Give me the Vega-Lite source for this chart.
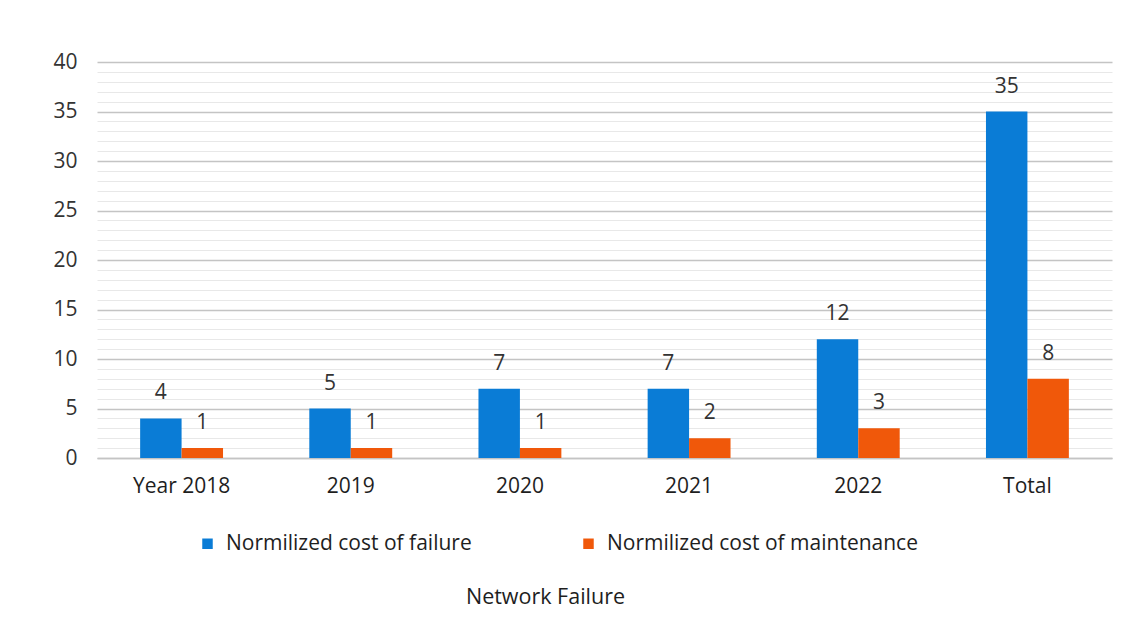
{
  "$schema": "https://vega.github.io/schema/vega-lite/v6.json",
  "width": 1015,
  "height": 396,
  "autosize": {"type": "none"},
  "padding": {"left": 97, "top": 62, "right": 33, "bottom": 166},
  "background": "white",
  "config": {
    "view": {"stroke": null},
    "font": "Open Sans",
    "axis": {"labelFont": "Open Sans", "titleFont": "Open Sans"}
  },
  "data": {
    "values": [
      {"category": "Year 2018", "series": "Normilized cost of failure", "value": 4},
      {"category": "Year 2018", "series": "Normilized cost of maintenance", "value": 1},
      {"category": "2019", "series": "Normilized cost of failure", "value": 5},
      {"category": "2019", "series": "Normilized cost of maintenance", "value": 1},
      {"category": "2020", "series": "Normilized cost of failure", "value": 7},
      {"category": "2020", "series": "Normilized cost of maintenance", "value": 1},
      {"category": "2021", "series": "Normilized cost of failure", "value": 7},
      {"category": "2021", "series": "Normilized cost of maintenance", "value": 2},
      {"category": "2022", "series": "Normilized cost of failure", "value": 12},
      {"category": "2022", "series": "Normilized cost of maintenance", "value": 3},
      {"category": "Total", "series": "Normilized cost of failure", "value": 35},
      {"category": "Total", "series": "Normilized cost of maintenance", "value": 8}
    ]
  },
  "encoding": {
    "x": {
      "field": "category",
      "type": "nominal",
      "sort": ["Year 2018", "2019", "2020", "2021", "2022", "Total"],
      "scale": {"paddingInner": 0.51, "paddingOuter": 0.255},
      "axis": {
        "title": "Network Failure",
        "titleFontSize": 21.5,
        "titleFontWeight": "normal",
        "titleColor": "#1e1e1e",
        "titleX": 448,
        "titleY": 139,
        "titleBaseline": "middle",
        "labelAngle": 0,
        "labelFontSize": 21,
        "labelColor": "#1e1e1e",
        "labelPadding": 17,
        "ticks": false,
        "domainColor": "#c4c4c4",
        "domainWidth": 1.5
      }
    },
    "xOffset": {
      "field": "series",
      "type": "nominal",
      "sort": ["Normilized cost of failure", "Normilized cost of maintenance"]
    },
    "y": {
      "field": "value",
      "type": "quantitative",
      "scale": {"domain": [0, 40], "nice": false},
      "axis": {
        "title": null,
        "values": [0,1,2,3,4,5,6,7,8,9,10,11,12,13,14,15,16,17,18,19,20,21,22,23,24,25,26,27,28,29,30,31,32,33,34,35,36,37,38,39,40],
        "labelExpr": "datum.value % 5 === 0 ? datum.label : ''",
        "labelFontSize": 21,
        "labelColor": "#333333",
        "labelPadding": 20,
        "ticks": false,
        "domain": false,
        "gridColor": {"condition": {"test": "datum.value % 5 === 0", "value": "#c4c4c4"}, "value": "#e8e8e8"},
        "gridWidth": {"condition": {"test": "datum.value % 5 === 0", "value": 1.5}, "value": 1}
      }
    }
  },
  "layer": [
    {
      "mark": {"type": "bar"},
      "encoding": {
        "color": {
          "field": "series",
          "type": "nominal",
          "scale": {
            "domain": ["Normilized cost of failure", "Normilized cost of maintenance"],
            "range": ["#0A7CD6", "#F0580A"]
          },
          "legend": {
            "title": null,
            "orient": "none",
            "direction": "horizontal",
            "legendX": 100,
            "legendY": 471,
            "symbolType": "square",
            "symbolSize": 110,
            "symbolStrokeWidth": 0,
            "labelFontSize": 21,
            "labelColor": "#1e1e1e",
            "labelFont": "Open Sans",
            "labelOffset": 8,
            "columnPadding": 106,
            "labelLimit": 400
          }
        }
      }
    },
    {
      "mark": {"type": "text", "baseline": "bottom", "dy": -15, "fontSize": 21, "color": "#333333"},
      "encoding": {
        "text": {"field": "value", "type": "quantitative"}
      }
    }
  ]
}
